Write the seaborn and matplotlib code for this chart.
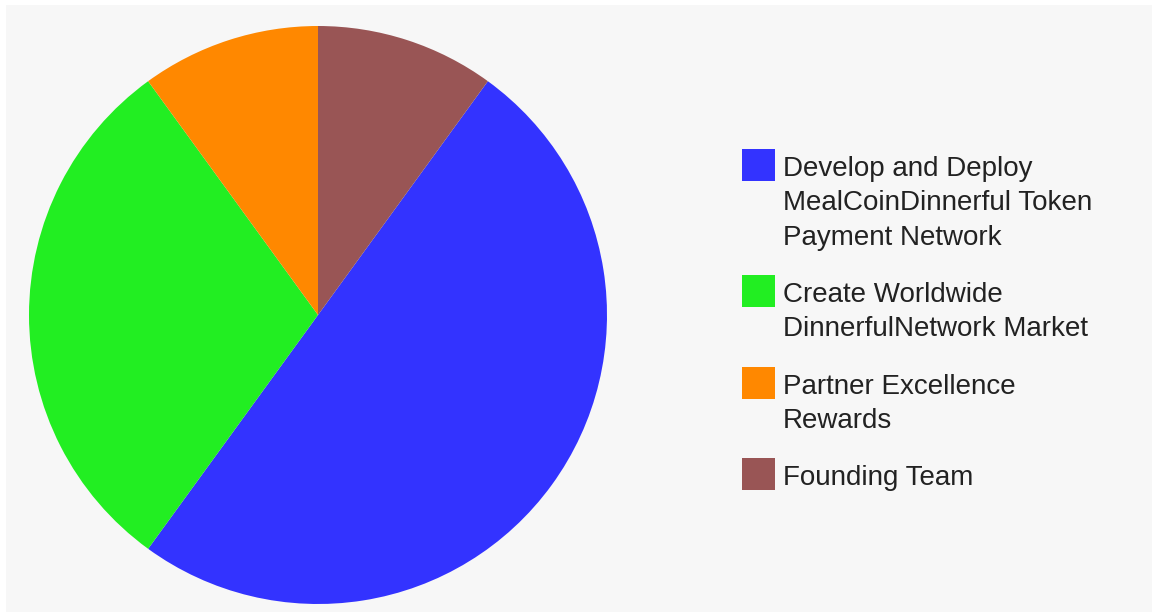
import matplotlib
matplotlib.use("Agg")
import matplotlib.pyplot as plt
from matplotlib.patches import Rectangle
import seaborn as sns

# === Data ===
labels = [
    "Develop and Deploy\nMealCoinDinnerful Token\nPayment Network",
    "Create Worldwide\nDinnerfulNetwork Market",
    "Partner Excellence\nRewards",
    "Founding Team",
]
shares = [50, 30, 10, 10]
colors = ["#3333ff", "#22ee22", "#ff8800", "#995555"]

W, H = 1152, 613

sns.set_theme(style="white")
plt.rcParams["font.family"] = ["Liberation Sans", "DejaVu Sans"]

fig = plt.figure(figsize=(W / 100, H / 100), dpi=100, facecolor="white")

# light grey chart area (white strip on the left/top edge)
fig.patches.append(Rectangle((6 / W, 1 / H), 1 - 6 / W, 1 - 6 / H,
                             transform=fig.transFigure, facecolor="#f7f7f7",
                             edgecolor="none", zorder=-5))

# === Pie ===
ax = fig.add_axes([29 / W, 9 / H, 578 / W, 578 / H])
ax.set_zorder(2)
ax.pie(shares, colors=colors, startangle=54, counterclock=False,
       wedgeprops=dict(linewidth=0, antialiased=True))
ax.set_xlim(-1, 1)
ax.set_ylim(-1, 1)
ax.set_aspect("equal")
ax.axis("off")

# === Legend (drawn by hand, pixel layout) ===
def fy(y):
    return 1 - y / H

baseline = 176
line_step = 34.5
entry_gap = 22.5
for lab, col in zip(labels, colors):
    fig.patches.append(Rectangle((742 / W, fy(baseline - 27 + 32)), 33 / W, 32 / H,
                                 transform=fig.transFigure, facecolor=col,
                                 edgecolor="none"))
    for line in lab.split("\n"):
        fig.text(783 / W, fy(baseline), line, fontsize=20, color="#222222",
                 va="baseline", ha="left")
        baseline += line_step
    baseline += entry_gap

fig.savefig("out.png", dpi=100, facecolor=fig.get_facecolor())
